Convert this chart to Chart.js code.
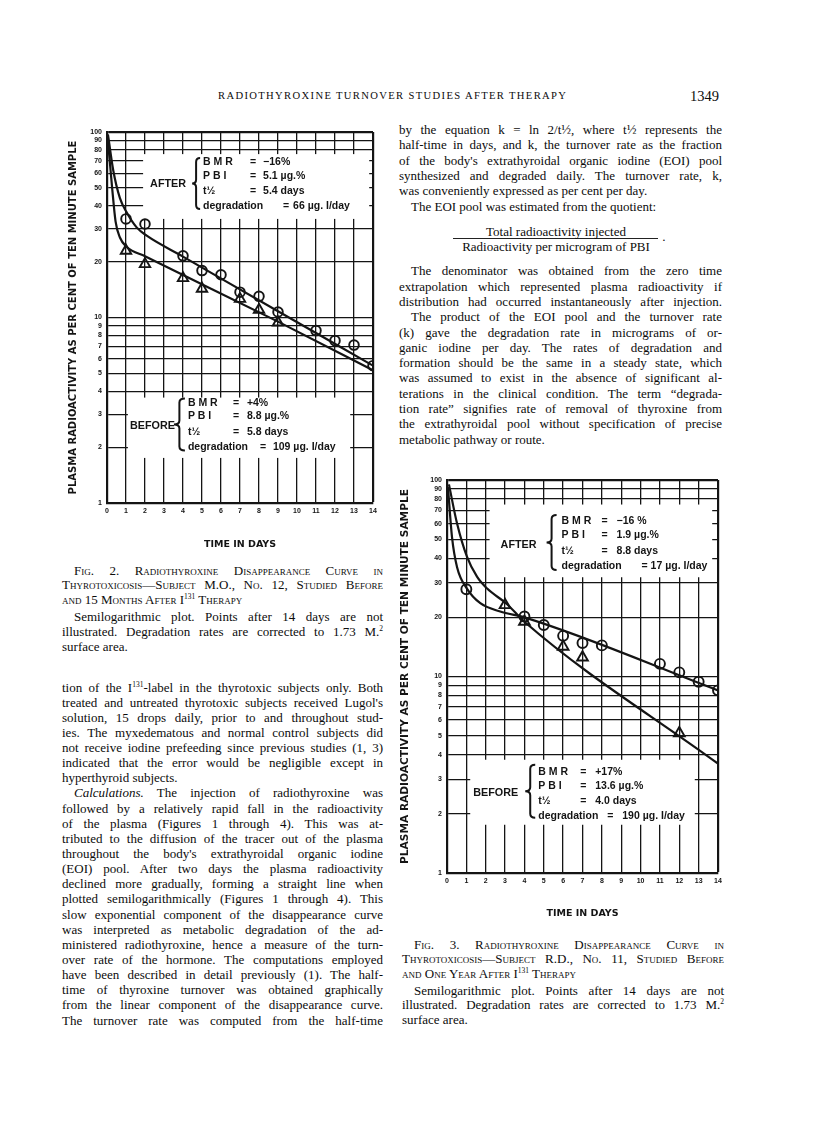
<!DOCTYPE html>
<html>
<head>
<meta charset="utf-8">
<script src="https://cdn.jsdelivr.net/npm/chart.js"></script>
<style>
  html, body { margin: 0; padding: 0; background: #fff; }
  body { width: 816px; height: 1139px; position: relative; overflow: hidden; color: #0c0c0c;
         font-family: "Liberation Serif", "Times New Roman", serif; font-size: 13px; }
  .ln { position: absolute; height: 15px; line-height: 15px; white-space: nowrap; }
  .sc { font-variant: small-caps; }
  sup { font-size: 7.5px; line-height: 0; vertical-align: 5px; }
  canvas { position: absolute; }
  #fig2 { left: 62px; top: 122px; }
  #fig3 { left: 396px; top: 468px; }
  .hdr { position: absolute; top: 90px; left: 218px; font-size: 10.6px; letter-spacing: 1.35px; white-space: nowrap; }
  .pg { position: absolute; top: 88px; left: 690px; font-size: 14.5px; }
  .rule { position: absolute; left: 453px; top: 238px; width: 205px; height: 1px; background: #222; }
</style>
</head>
<body>
<div class="hdr">RADIOTHYROXINE TURNOVER STUDIES AFTER THERAPY</div>
<div class="pg">1349</div>
<div class="rule"></div>
<canvas id="fig2" width="320" height="432"></canvas>
<canvas id="fig3" width="332" height="455"></canvas>
<script>
// tick values
const dayTicks = [0, 1, 2, 3, 4, 5, 6, 7, 8, 9, 10, 11, 12, 13, 14];
const pctTicks = [1, 2, 3, 4, 5, 6, 7, 8, 9, 10, 20, 30, 40, 50, 60, 70, 80, 90, 100];

// Fig. 2 - subject M.O.
const fig2AfterDays = [1, 2, 4, 5, 6, 7, 8, 9, 11, 12, 13, 14];
const fig2AfterPct = [34, 31.9, 21.5, 17.9, 17.0, 13.7, 13.0, 10.7, 8.5, 7.5, 7.1, 5.5];
const fig2BeforeDays = [1, 2, 4, 5, 7, 8, 9];
const fig2BeforePct = [22.9, 19.4, 16.3, 14.3, 12.6, 11.0, 9.4];
const fig2AfterCurveDays = [0.05, 0.33, 0.68, 1.04, 1.56, 2.09, 4, 9, 14];
const fig2AfterCurvePct = [97, 62, 44, 36.8, 30.6, 27.6, 21.3, 10.8, 5.5];
const fig2BeforeCurveDays = [0.05, 0.27, 0.45, 0.68, 1.04, 2, 9, 14];
const fig2BeforeCurvePct = [90, 50, 33, 27, 24, 21.4, 9.5, 5.2];

// Fig. 3 - subject R.D.
const fig3AfterDays = [1, 4, 5, 6, 7, 8, 11, 12, 13, 14];
const fig3AfterPct = [27.8, 20.2, 18.3, 16.1, 14.8, 14.4, 11.6, 10.5, 9.4, 8.5];
const fig3BeforeDays = [3, 4, 6, 7, 12];
const fig3BeforePct = [23.1, 19.0, 14.2, 12.5, 5.15];
const fig3AfterCurveDays = [0.05, 0.26, 0.52, 1.03, 1.72, 2.75, 4, 14];
const fig3AfterCurvePct = [92, 51, 36, 28, 23.6, 21.4, 20.0, 8.5];
const fig3BeforeCurveDays = [0.1, 0.52, 1.03, 1.55, 2.06, 3.09, 4, 14];
const fig3BeforeCurvePct = [95, 60, 40.7, 32.2, 28.1, 23.4, 19.0, 3.6];

// clinical data printed in the boxes
const statLabels = ["B M R", "P B I", "t½", "degradation"];
const fig2AfterStats = ["−16%", "5.1 µg.%", "5.4 days", "66 µg. I/day"];
const fig2BeforeStats = ["+4%", "8.8 µg.%", "5.8 days", "109 µg. I/day"];
const fig3AfterStats = ["−16 %", "1.9 µg.%", "8.8 days", "17 µg. I/day"];
const fig3BeforeStats = ["+17%", "13.6 µg.%", "4.0 days", "190 µg. I/day"];

const pts = (xs, ys) => xs.map((x, i) => ({ x: x, y: ys[i] }));
const ink = "#141414";

function markers(xs, ys, style, r) {
  return { data: pts(xs, ys), showLine: false, pointStyle: style, pointRadius: r, pointHoverRadius: r,
           pointBorderWidth: 1.9, pointBorderColor: ink, pointBackgroundColor: "rgba(0,0,0,0)" };
}
function curve(xs, ys) {
  return { data: pts(xs, ys), pointRadius: 0, borderWidth: 2.2, borderColor: ink,
           cubicInterpolationMode: "monotone", fill: false };
}

function drawBrace(ctx, x, top, bot, w) {
  const mid = (top + bot) / 2, r = 4, xm = x + w / 2;
  ctx.beginPath();
  ctx.moveTo(x + w, top);
  ctx.quadraticCurveTo(xm, top, xm, top + r);
  ctx.lineTo(xm, mid - r);
  ctx.quadraticCurveTo(xm, mid, x, mid);
  ctx.quadraticCurveTo(xm, mid, xm, mid + r);
  ctx.lineTo(xm, bot - r);
  ctx.quadraticCurveTo(xm, bot, x + w, bot);
  ctx.stroke();
}

const boxPlugin = {
  id: "statBoxes",
  beforeDatasetsDraw(chart, args, opts) {
    const ctx = chart.ctx, xs = chart.scales.x, ys = chart.scales.y;
    ctx.save();
    opts.boxes.forEach(b => {
      const L = xs.getPixelForValue(b.x0), R = xs.getPixelForValue(b.x1);
      const T = ys.getPixelForValue(b.y0), B = ys.getPixelForValue(b.y1);
      ctx.fillStyle = "#fff";
      ctx.fillRect(L, T, R - L, B - T);
      ctx.fillStyle = ink; ctx.strokeStyle = ink;
      ctx.textBaseline = "middle"; ctx.textAlign = "left";
      ctx.font = "bold 10.8px 'Liberation Sans', Arial, sans-serif";
      ctx.fillText(b.name, L + b.nameX, T + b.nameY);
      ctx.lineWidth = 2;
      drawBrace(ctx, L + b.brace[0], T + b.brace[2], T + b.brace[3], b.brace[1] - b.brace[0]);
      ctx.font = "bold 10.5px 'Liberation Sans', Arial, sans-serif";
      statLabels.forEach((lab, i) => {
        const y = T + b.rows[i];
        const last = i === statLabels.length - 1;
        ctx.fillText(lab, L + b.labX, y);
        ctx.fillText("=", L + (last ? b.eq2X : b.eqX), y);
        ctx.fillText(b.stats[i], L + (last ? b.val2X : b.valX), y);
      });
    });
    ctx.restore();
  }
};

function makePlot(id, p) {
  const tickFont = { family: "'Liberation Sans', Arial, sans-serif", weight: "bold", size: 7 };
  const titleFont = { family: "'DejaVu Sans', sans-serif", weight: "bold", size: p.titleSize };
  return new Chart(document.getElementById(id), {
    type: "line",
    data: { datasets: p.datasets },
    plugins: [boxPlugin],
    options: {
      responsive: false,
      animation: false,
      events: [],
      layout: { padding: { top: p.padTop, right: p.padRight, left: 0, bottom: 0 } },
      plugins: { legend: { display: false }, tooltip: { enabled: false }, statBoxes: { boxes: p.boxes } },
      scales: {
        x: {
          type: "linear", min: 0, max: 14,
          afterBuildTicks: s => { s.ticks = dayTicks.map(v => ({ value: v })); },
          afterFit: s => { s.height = p.xHeight; },
          grid: { color: ink, lineWidth: c => (c.tick && c.tick.value === 14 ? 2.2 : 1.3), drawTicks: false },
          border: { color: ink, width: 2.2 },
          ticks: { font: tickFont, color: ink, padding: 4, maxRotation: 0, autoSkip: false },
          title: { display: true, text: "TIME IN DAYS", font: { family: "'DejaVu Sans', sans-serif", weight: "bold", size: 9.5 },
                   color: ink, padding: { top: 0, bottom: 4 } }
        },
        y: {
          type: "logarithmic", min: 1, max: 100,
          afterBuildTicks: s => { s.ticks = pctTicks.map(v => ({ value: v })); },
          afterFit: s => { s.width = p.yWidth; },
          grid: { color: ink, lineWidth: c => (c.tick && c.tick.value === 100 ? 2.2 : 1.3), drawTicks: false },
          border: { color: ink, width: 2.2 },
          ticks: { font: tickFont, color: ink, padding: 5, autoSkip: false, callback: v => String(v) },
          title: { display: true, text: "PLASMA RADIOACTIVITY AS PER CENT OF TEN MINUTE SAMPLE",
                   font: titleFont, color: ink, padding: { top: p.titlePad, bottom: 0 } }
        }
      }
    }
  });
}

makePlot("fig2", {
  padTop: 10, padRight: 9, yWidth: 45, xHeight: 51, titleSize: 10, titlePad: 5,
  datasets: [
    curve(fig2AfterCurveDays, fig2AfterCurvePct),
    curve(fig2BeforeCurveDays, fig2BeforeCurvePct),
    markers(fig2AfterDays, fig2AfterPct, "circle", 4.8),
    markers(fig2BeforeDays, fig2BeforePct, "triangle", 6)
  ],
  boxes: [
    { x0: 1.9, x1: 13.8, y0: 76, y1: 34, name: "AFTER", nameX: 7, nameY: 30, brace: [49, 57, 4, 55],
      labX: 60, eqX: 107, valX: 120, eq2X: 140, val2X: 150, rows: [8.5, 22, 37, 52], stats: fig2AfterStats },
    { x0: 1.1, x1: 12.8, y0: 3.7, y1: 1.75, name: "BEFORE", nameX: 2, nameY: 28, brace: [46, 57, 1, 53],
      labX: 60, eqX: 105, valX: 119, eq2X: 132, val2X: 145, rows: [6, 19, 35, 50], stats: fig2BeforeStats }
  ]
});

makePlot("fig3", {
  padTop: 12, padRight: 10, yWidth: 51, xHeight: 50, titleSize: 10.6, titlePad: 3,
  datasets: [
    curve(fig3AfterCurveDays, fig3AfterCurvePct),
    curve(fig3BeforeCurveDays, fig3BeforeCurvePct),
    markers(fig3AfterDays, fig3AfterPct, "circle", 5),
    markers(fig3BeforeDays, fig3BeforePct, "triangle", 6.2)
  ],
  boxes: [
    { x0: 2.2, x1: 13.7, y0: 75, y1: 32, name: "AFTER", nameX: 11, nameY: 40.5, brace: [57, 67, 10.5, 65.5],
      labX: 72, eqX: 112, valX: 127, eq2X: 152, val2X: 161, rows: [17, 31, 46.5, 62], stats: fig3AfterStats },
    { x0: 1.2, x1: 12.8, y0: 3.77, y1: 1.76, name: "BEFORE", nameX: 3, nameY: 33, brace: [55, 65, 5, 58],
      labX: 68, eqX: 110, valX: 125, eq2X: 137, val2X: 152, rows: [12, 26, 41, 56], stats: fig3BeforeStats }
  ]
});

// ---- page text ----
// each line: [text, justify, indent]
const rightTop = [
  ["by the equation k = ln 2/t½, where t½ represents the", 1, 0],
  ["half-time in days, and k, the turnover rate as the fraction", 1, 0],
  ["of the body's extrathyroidal organic iodine (EOI) pool", 1, 0],
  ["synthesized and degraded daily. The turnover rate, k,", 1, 0],
  ["was conveniently expressed as per cent per day.", 0, 0],
  ["The EOI pool was estimated from the quotient:", 0, 1]
];
const rightBottom = [
  ["The denominator was obtained from the zero time", 1, 1],
  ["extrapolation which represented plasma radioactivity if", 1, 0],
  ["distribution had occurred instantaneously after injection.", 1, 0],
  ["The product of the EOI pool and the turnover rate", 1, 1],
  ["(k) gave the degradation rate in micrograms of or-", 1, 0],
  ["ganic iodine per day. The rates of degradation and", 1, 0],
  ["formation should be the same in a steady state, which", 1, 0],
  ["was assumed to exist in the absence of significant al-", 1, 0],
  ["terations in the clinical condition. The term “degrada-", 1, 0],
  ["tion rate” signifies rate of removal of thyroxine from", 1, 0],
  ["the extrathyroidal pool without specification of precise", 1, 0],
  ["metabolic pathway or route.", 0, 0]
];
const fig2Caption = [
  ["<span class='sc'>Fig. 2. Radiothyroxine Disappearance Curve in</span>", 1, 1],
  ["<span class='sc'>Thyrotoxicosis—Subject M.O., No. 12, Studied Before</span>", 1, 0],
  ["<span class='sc'>and 15 Months After I<sup>131</sup> Therapy</span>", 0, 0],
  ["Semilogarithmic plot. Points after 14 days are not", 1, 1],
  ["illustrated. Degradation rates are corrected to 1.73 M.<sup>2</sup>", 1, 0],
  ["surface area.", 0, 0]
];
const fig3Caption = [
  ["<span class='sc'>Fig. 3. Radiothyroxine Disappearance Curve in</span>", 1, 1],
  ["<span class='sc'>Thyrotoxicosis—Subject R.D., No. 11, Studied Before</span>", 1, 0],
  ["<span class='sc'>and One Year After I<sup>131</sup> Therapy</span>", 0, 0],
  ["Semilogarithmic plot. Points after 14 days are not", 1, 1],
  ["illustrated. Degradation rates are corrected to 1.73 M.<sup>2</sup>", 1, 0],
  ["surface area.", 0, 0]
];
const leftBody = [
  ["tion of the I<sup>131</sup>-label in the thyrotoxic subjects only. Both", 1, 0],
  ["treated and untreated thyrotoxic subjects received Lugol's", 1, 0],
  ["solution, 15 drops daily, prior to and throughout stud-", 1, 0],
  ["ies. The myxedematous and normal control subjects did", 1, 0],
  ["not receive iodine prefeeding since previous studies (1, 3)", 1, 0],
  ["indicated that the error would be negligible except in", 1, 0],
  ["hyperthyroid subjects.", 0, 0],
  ["<i>Calculations.</i> The injection of radiothyroxine was", 1, 1],
  ["followed by a relatively rapid fall in the radioactivity", 1, 0],
  ["of the plasma (Figures 1 through 4). This was at-", 1, 0],
  ["tributed to the diffusion of the tracer out of the plasma", 1, 0],
  ["throughout the body's extrathyroidal organic iodine", 1, 0],
  ["(EOI) pool. After two days the plasma radioactivity", 1, 0],
  ["declined more gradually, forming a straight line when", 1, 0],
  ["plotted semilogarithmically (Figures 1 through 4). This", 1, 0],
  ["slow exponential component of the disappearance curve", 1, 0],
  ["was interpreted as metabolic degradation of the ad-", 1, 0],
  ["ministered radiothyroxine, hence a measure of the turn-", 1, 0],
  ["over rate of the hormone. The computations employed", 1, 0],
  ["have been described in detail previously (1). The half-", 1, 0],
  ["time of thyroxine turnover was obtained graphically", 1, 0],
  ["from the linear component of the disappearance curve.", 1, 0],
  ["The turnover rate was computed from the half-time", 1, 0]
];

function placeLines(lines, x, w, ys) {
  lines.forEach((l, i) => {
    const d = document.createElement("div");
    d.className = "ln";
    const ind = l[2] ? 12 : 0;
    d.style.left = (x + ind) + "px";
    d.style.top = (ys[i] - 7.5) + "px";
    d.style.width = (w - ind) + "px";
    const s = document.createElement("span");
    s.innerHTML = l[0];
    d.appendChild(s);
    document.body.appendChild(d);
    if (l[1]) {
      const nat = s.getBoundingClientRect().width;
      const gaps = (s.textContent.match(/ /g) || []).length;
      if (gaps) s.style.wordSpacing = ((w - ind - nat) / gaps) + "px";
    }
  });
}
const step = (y0, dy, n) => Array.from({ length: n }, (_, i) => y0 + dy * i);

placeLines(rightTop, 399, 323, [129.5, 144.6, 160, 175.2, 190.4, 206]);
placeLines(rightBottom, 399, 323, step(270.8, 15.3, rightBottom.length));
placeLines(fig2Caption, 62, 321, [570, 584.8, 599.2, 616, 631, 646]);
placeLines(fig3Caption, 402, 322, [944, 958.8, 973.3, 990, 1004.5, 1019]);
placeLines(leftBody, 62, 321, step(687, 15.14, leftBody.length));

// fraction
function centered(html, cx, cy) {
  const d = document.createElement("div");
  d.className = "ln";
  d.innerHTML = html;
  document.body.appendChild(d);
  const w = d.getBoundingClientRect().width;
  d.style.left = (cx - w / 2) + "px";
  d.style.top = (cy - 7.5) + "px";
}
centered("Total radioactivity injected", 556, 231.5);
centered("Radioactivity per microgram of PBI", 556, 246.5);
centered("·", 664, 239);
</script>
</body>
</html>
